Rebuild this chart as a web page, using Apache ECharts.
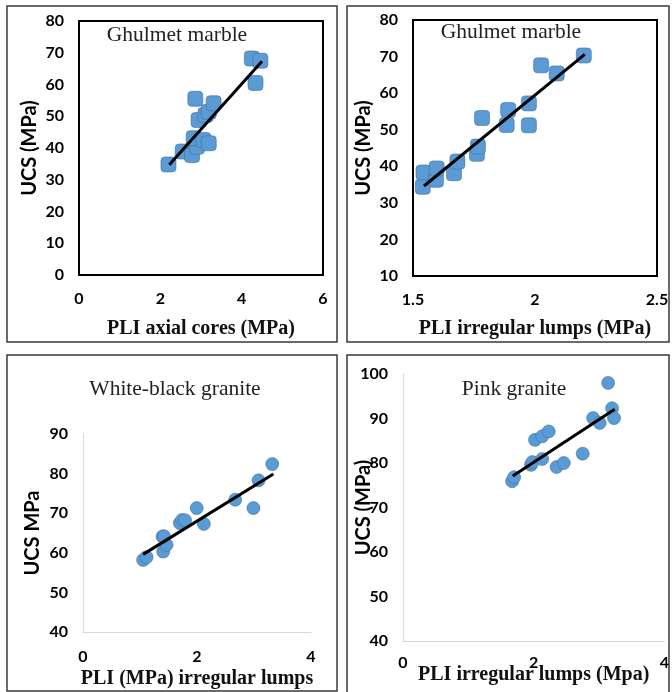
<!DOCTYPE html>
<html><head><meta charset="utf-8">
<script src="https://cdn.jsdelivr.net/npm/echarts@6/dist/echarts.min.js"></script>
<style>html,body{margin:0;padding:0;background:#fff}#c{width:672px;height:692px}</style>
</head><body><div id="c"></div>
<script>
// Panel 1: Ghulmet marble, PLI axial cores
const p1X = [2.2, 2.55, 2.78, 2.9, 2.82, 3.06, 3.19, 2.94, 3.11, 3.19, 3.31, 2.86, 4.34, 4.25, 4.46];
const p1Y = [34.8, 38.9, 37.8, 40.4, 43.1, 42.5, 41.5, 48.8, 50.4, 51.4, 54.1, 55.5, 60.5, 68.2, 67.5];
const t1X = [2.22, 4.5];
const t1Y = [34.7, 67.3];
// Panel 2: Ghulmet marble, PLI irregular lumps
const p2X = [1.54, 1.543, 1.594, 1.597, 1.668, 1.682, 1.762, 1.766, 1.783, 1.884, 1.89, 1.975, 1.975, 2.025, 2.089, 2.2];
const p2Y = [34.4, 38.3, 36.3, 39.4, 38.1, 41.3, 43.4, 45.4, 53.2, 51.3, 55.4, 51.2, 57.2, 67.6, 65.4, 70.3];
const t2X = [1.545, 2.204];
const t2Y = [34.6, 70.6];
// Panel 3: White-black granite
const p3X = [1.055, 1.115, 1.407, 1.467, 1.396, 1.42, 1.70, 1.74, 1.79, 1.995, 2.12, 2.67, 2.99, 3.08, 3.32];
const p3Y = [58.2, 58.9, 60.3, 62.0, 64.1, 64.2, 67.5, 68.3, 68.2, 71.3, 67.3, 73.4, 71.3, 78.3, 82.4];
const t3X = [1.055, 3.34];
const t3Y = [59.6, 79.9];
// Panel 4: Pink granite
const p4X = [1.67, 1.70, 1.96, 1.98, 2.13, 2.02, 2.13, 2.23, 2.35, 2.46, 2.75, 2.91, 3.01, 3.14, 3.20, 3.23];
const p4Y = [75.9, 76.8, 79.6, 80.2, 80.9, 85.2, 86.0, 87.1, 79.1, 80.0, 82.1, 90.1, 89.0, 98.0, 92.3, 90.1];
const t4X = [1.68, 3.24];
const t4Y = [77.1, 92.1];

const titles = ['Ghulmet marble', 'Ghulmet marble', 'White-black granite', 'Pink granite'];
const xNames = ['PLI axial cores (MPa)', 'PLI irregular lumps (MPa)', 'PLI (MPa) irregular lumps', 'PLI irregular lumps (Mpa)'];
const yNames = ['UCS (MPa)', 'UCS (MPa)', 'UCS MPa', 'UCS (MPa)'];
const xMin = [0, 1.5, 0, 0], xMax = [6, 2.5, 4, 4], xInt = [2, 0.5, 2, 2];
const yMin = [0, 10, 40, 40], yMax = [80, 80, 90, 100], yInt = [10, 10, 10, 10];

const zip = (a, b) => a.map((v, i) => [v, b[i]]);
const pts = [zip(p1X, p1Y), zip(p2X, p2Y), zip(p3X, p3Y), zip(p4X, p4Y)];
const trends = [zip(t1X, t1Y), zip(t2X, t2Y), zip(t3X, t3Y), zip(t4X, t4Y)];

const grids = [
  {left: 79, top: 21, width: 244, height: 254, show: true, borderColor: '#000', borderWidth: 2},
  {left: 413, top: 20, width: 244, height: 256, show: true, borderColor: '#000', borderWidth: 2},
  {left: 83, top: 434, width: 228, height: 198},
  {left: 403, top: 374, width: 262, height: 267}
];
const labelFont = {fontFamily: 'Lato', fontWeight: 'bold', fontSize: 16, color: '#000'};
const xLabelMargin = [16, 16, 17, 14];
const xNameGap = [44, 43, 37, 24];
const yNameGap = [39, 39, 40, 29];
const framed = [true, true, false, false];

const xAxes = grids.map((g, i) => ({
  type: 'value', gridIndex: i, min: xMin[i], max: xMax[i], interval: xInt[i],
  name: xNames[i], nameLocation: 'middle', nameGap: xNameGap[i], nameMoveOverlap: false,
  nameTextStyle: {fontFamily: 'Liberation Serif', fontWeight: 'bold', fontSize: 20, color: '#111'},
  axisLine: {show: !framed[i], lineStyle: {color: '#d9d9d9', width: 1}},
  axisTick: {show: false}, splitLine: {show: false},
  axisLabel: Object.assign({margin: xLabelMargin[i]}, labelFont)
}));
const yAxes = grids.map((g, i) => ({
  type: 'value', gridIndex: i, min: yMin[i], max: yMax[i], interval: yInt[i],
  name: yNames[i], nameLocation: 'middle', nameGap: yNameGap[i], nameMoveOverlap: false,
  nameTextStyle: {fontFamily: 'Lato', fontWeight: 'bold', fontSize: 20, color: '#000'},
  axisLine: {show: !framed[i], lineStyle: {color: '#d9d9d9', width: 1}},
  axisTick: {show: false}, splitLine: {show: false},
  axisLabel: Object.assign({margin: 15}, labelFont)
}));

const series = [];
pts.forEach((d, i) => {
  series.push({
    type: 'scatter', xAxisIndex: i, yAxisIndex: i, data: d,
    symbol: i < 2 ? 'roundRect' : 'circle', symbolSize: i < 2 ? 15 : 13,
    itemStyle: {color: '#5B9BD5', borderColor: '#41719C', borderWidth: 0.6, opacity: 1},
    z: 2
  });
  series.push({
    type: 'line', xAxisIndex: i, yAxisIndex: i, data: trends[i],
    symbol: 'none', lineStyle: {color: '#000', width: 3}, z: 3, silent: true
  });
});

const titlePos = [[177, 35], [511, 32], [175, 389], [514, 389]];
const panelRects = [[7, 6, 330, 336], [347, 6, 322, 336], [7, 355, 330, 336], [347, 355, 322, 340]];
const graphic = [];
panelRects.forEach(r => graphic.push({
  type: 'rect', shape: {x: r[0], y: r[1], width: r[2], height: r[3]},
  style: {fill: null, stroke: '#3a3a3a', lineWidth: 1.5}, silent: true, z: 0
}));
titles.forEach((t, i) => graphic.push({
  type: 'text', x: titlePos[i][0], y: titlePos[i][1], z: 10,
  style: {text: t, fill: '#222', font: '21.5px "Liberation Serif"', textAlign: 'center', textVerticalAlign: 'middle'}
}));

const chart = echarts.init(document.getElementById('c'), null, {renderer: 'canvas'});
chart.setOption({
  animation: false,
  backgroundColor: '#fff',
  grid: grids, xAxis: xAxes, yAxis: yAxes, series: series, graphic: graphic
});
</script></body></html>
